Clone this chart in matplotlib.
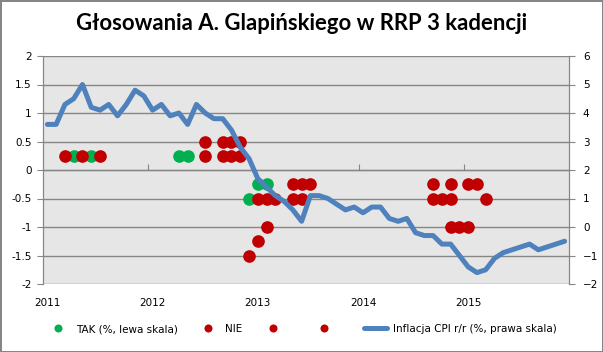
import numpy as np
import matplotlib
matplotlib.use('Agg')
import matplotlib.pyplot as plt
from matplotlib.lines import Line2D

# CPI r/r, monthly 2011-01 .. 2015-12 (right scale)
cpi = [3.6, 3.6, 4.3, 4.5, 5.0, 4.2, 4.1, 4.3, 3.9, 4.3, 4.8, 4.6,
       4.1, 4.3, 3.9, 4.0, 3.6, 4.3, 4.0, 3.8, 3.8, 3.4, 2.8, 2.4,
       1.7, 1.4, 1.1, 0.9, 0.6, 0.2, 1.1, 1.1, 1.0, 0.8, 0.6, 0.7,
       0.5, 0.7, 0.7, 0.3, 0.2, 0.3, -0.2, -0.3, -0.3, -0.6, -0.6, -1.0,
       -1.4, -1.6, -1.5, -1.1, -0.9, -0.8, -0.7, -0.6, -0.8, -0.7, -0.6, -0.5]

# votes: month index (0 = Jan 2011) and proposed change (left scale)
tak_month = [3, 5, 15, 16, 23, 24, 25]
tak_val = [0.25, 0.25, 0.25, 0.25, -0.5, -0.25, -0.25]

nie_month = [2, 4, 6, 18, 20, 21, 22, 24, 25, 26, 28, 29, 30, 44, 46, 48, 49]
nie_val = [0.25, 0.25, 0.25, 0.5, 0.5, 0.5, 0.5, -0.5, -0.5, -0.5,
           -0.25, -0.25, -0.25, -0.25, -0.25, -0.25, -0.25]

nie2_month = [18, 20, 21, 22, 23, 24, 25, 28, 29, 44, 45, 46, 50]
nie2_val = [0.25, 0.25, 0.25, 0.25, -1.5, -1.25, -1.0, -0.5, -0.5,
            -0.5, -0.5, -0.5, -0.5]

nie3_month = [46, 47, 48]
nie3_val = [-1.0, -1.0, -1.0]

years = ['2011', '2012', '2013', '2014', '2015']

green = '#00B050'
red = '#C00000'
blue = '#4F81BD'
grey = '#868686'

plt.rcParams['font.family'] = 'DejaVu Sans'
plt.rcParams['font.size'] = 7.5

fig = plt.figure(figsize=(6.03, 3.52), dpi=100)
fig.patch.set_edgecolor(grey)
fig.patch.set_linewidth(2)

ax = fig.add_axes([43/603, 68/352, 526/603, 228/352])
ax.set_facecolor('#E6E6E6')
ax.set_xlim(-0.5, 59.5)
ax.set_ylim(-2, 2)
ax.set_yticks(np.arange(-2, 2.01, 0.5))
ax.set_yticklabels(['-2', '-1.5', '-1', '-0.5', '0', '0.5', '1', '1.5', '2'])
ax.grid(axis='y', color=grey, lw=1)
ax.set_axisbelow(True)
for s in ['top', 'bottom']:
    ax.spines[s].set_visible(False)
for s in ['left', 'right']:
    ax.spines[s].set_color(grey)
ax.tick_params(axis='y', length=4, color=grey, pad=4)
ax.set_xticks(range(0, 60, 12))
ax.set_xticklabels(years)
ax.tick_params(axis='x', length=0, pad=10)

ms = 9.1
ax.plot(tak_month, tak_val, 'o', color=green, ms=ms, mec='none')
ax.plot(nie_month, nie_val, 'o', color=red, ms=ms, mec='none')
ax.plot(nie2_month, nie2_val, 'o', color=red, ms=ms, mec='none')
ax.plot(nie3_month, nie3_val, 'o', color=red, ms=ms, mec='none')

# tick marks on the zero line
sec = ax.secondary_xaxis(0.5)
sec.set_xticks(np.arange(11.5, 59, 12))
sec.set_xticklabels([])
sec.tick_params(length=4, color=grey)
sec.spines['bottom'].set_visible(False)

ax2 = ax.twinx()
ax2.set_ylim(-2, 6)
ax2.set_yticks(range(-2, 7))
ax2.tick_params(axis='y', length=4, color=grey, pad=6)
for s in ['top', 'bottom']:
    ax2.spines[s].set_visible(False)
for s in ['left', 'right']:
    ax2.spines[s].set_color(grey)
ax2.plot(range(len(cpi)), cpi, color=blue, lw=3.6,
         solid_joinstyle='round', solid_capstyle='round')

fig.text(0.5, 1 - 23/352, 'Głosowania A. Glapińskiego w RRP 3 kadencji',
         ha='center', va='center', fontsize=15.9, fontweight='bold',
         family='Lato')

handles = [
    Line2D([], [], ls='none', marker='o', color=green, ms=5.8, mec='none'),
    Line2D([], [], ls='none', marker='o', color=red, ms=5.8, mec='none'),
    Line2D([], [], ls='none', marker='o', color=red, ms=5.8, mec='none'),
    Line2D([], [], ls='none', marker='o', color=red, ms=5.8, mec='none'),
    Line2D([], [], color=blue, lw=3.6, solid_capstyle='round'),
]
labels = ['TAK (%, lewa skala)', 'NIE', ' ', ' ',
          'Inflacja CPI r/r (%, prawa skala)']
fig.legend(handles, labels, loc='center', bbox_to_anchor=(0.5, 23/352),
           ncol=5, frameon=False, handlelength=2.2, handletextpad=0.6,
           columnspacing=1.8)

fig.savefig('out.png', dpi=100, edgecolor=fig.get_edgecolor())
